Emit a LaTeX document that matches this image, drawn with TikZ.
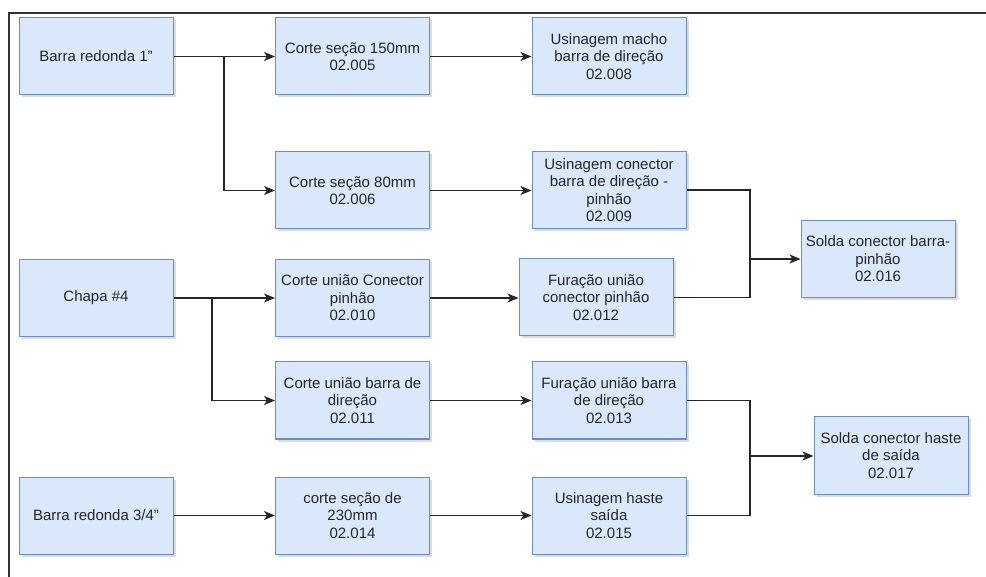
\documentclass[tikz,border=0pt]{standalone}
\usepackage{fontspec}
\setmainfont{Liberation Sans}
\usetikzlibrary{arrows.meta,shadows}
\begin{document}
\begin{tikzpicture}[x=1pt,y=-1pt,
  proc/.style={draw=boxline, fill=boxfill, line width=1pt, minimum width=154pt, minimum height=77pt,
    inner sep=0pt, align=center, text=black!85, font=\fontsize{15}{17.5}\selectfont,
    drop shadow={shadow xshift=2.5pt, shadow yshift=-2.5pt, fill=black!40, opacity=0.35}},
  flow/.style={line width=1.2pt, draw=black!85},
  arr/.style={flow, -{Stealth[length=11pt,width=9pt,inset=3pt]}}]
\definecolor{boxfill}{HTML}{DAE8FC}
\definecolor{boxline}{HTML}{6C8EBF}
\useasboundingbox (0,0) rectangle (986,577);
% outer frame
\draw[line width=2pt, black!80] (986,13) -- (9,13) -- (9,577);

% raw material column
\node[proc] (b1)  at (96,56.5)  {Barra redonda 1"};
\node[proc] (ch)  at (96,298)   {Chapa \#4};
\node[proc] (b34) at (96,515.5) {Barra redonda 3/4"};

% cutting column
\node[proc] (c150) at (352.5,56.5)  {Corte seção 150mm\\02.005};
\node[proc] (c80)  at (352.5,190.5) {Corte seção 80mm\\02.006};
\node[proc] (cuc)  at (352.5,298)   {Corte união Conector\\pinhão\\02.010};
\node[proc] (cub)  at (352.5,400.5) {Corte união barra de\\direção\\02.011};
\node[proc] (c230) at (352.5,515.5) {corte seção de\\230mm\\02.014};

% machining / drilling column
\node[proc] (um)  at (609,56.5)  {Usinagem macho\\barra de direção\\02.008};
\node[proc] (uc)  at (609,190)   {Usinagem conector\\barra de direção -\\pinhão\\02.009};
\node[proc] (fuc) at (596,297.5) {Furação união\\conector pinhão\\02.012};
\node[proc] (fub) at (609,400.5) {Furação união barra\\de direção\\02.013};
\node[proc] (uhs) at (609,515.5) {Usinagem haste\\saída\\02.015};

% welding
\node[proc] (sbp) at (878,259)   {Solda conector barra-\\pinhão\\02.016};
\node[proc] (shs) at (891,455.5) {Solda conector haste\\de saída\\02.017};

% branch points
\coordinate (k1) at (224,56.5);
\coordinate (k2) at (212,298);
\coordinate (j1) at (750,259);
\coordinate (j2) at (750,456);

% connectors
\draw[arr] (b1.east) -- (c150.west);
\draw[arr] (k1) |- (c80.west);
\draw[arr] (ch.east) -- (cuc.west);
\draw[arr] (k2) |- (cub.west);
\draw[arr] (b34.east) -- (c230.west);

\draw[arr] (c150.east) -- (um.west);
\draw[arr] (c80.east) -- (uc.west |- c80.east);
\draw[arr] (cuc.east) -- (fuc.west |- cuc.east);
\draw[arr] (cub.east) -- (fub.west);
\draw[arr] (c230.east) -- (uhs.west);

\draw[flow] (uc.east) -| (j1) |- (fuc.east);
\draw[arr] (j1) -- (sbp.west |- j1);
\draw[flow] (fub.east) -| (j2) |- (uhs.east);
\draw[arr] (j2) -- (shs.west |- j2);
\end{tikzpicture}
\end{document}
